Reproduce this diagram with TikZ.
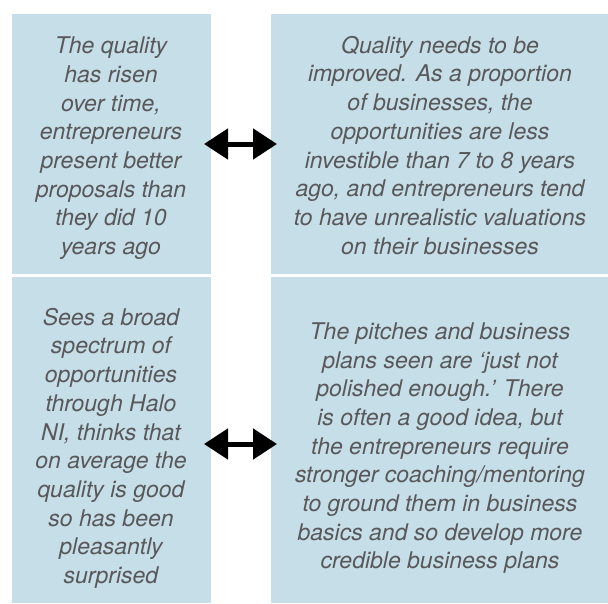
\documentclass[tikz,border=0pt]{standalone}
\usepackage{fontspec}
\setmainfont{TeX Gyre Heros}
\usetikzlibrary{arrows.meta}
\definecolor{boxblue}{HTML}{C6DEE7}
\definecolor{txtgray}{HTML}{58585A}
\begin{document}
\begin{tikzpicture}[x=1pt,y=-1pt,
  box/.style={fill=boxblue,draw=none,inner sep=0pt,outer sep=0pt},
  txt/.style={text=txtgray,align=center,inner sep=0pt,
    font={\fontsize{23}{28.7}\selectfont\itshape}},
  dbl/.style={line width=5pt,black,{Triangle[length=24pt,width=30pt]}-{Triangle[length=24pt,width=30pt]}}]
\useasboundingbox (0,0) rectangle (608,603);
\node[box,minimum width=198.7pt,minimum height=260pt] (tl) at (111.35,144) {};
\node[box,minimum width=337pt,minimum height=260pt] (tr) at (439.5,144) {};
\node[box,minimum width=198.7pt,minimum height=326pt] (bl) at (111.35,440) {};
\node[box,minimum width=337pt,minimum height=326pt] (br) at (439.5,440) {};
\node[txt] (ttl) at (111,148.2) {The quality\\has risen\\over time,\\entrepreneurs\\present better\\proposals than\\they did 10\\years ago};
\node[txt] (ttr) at (440,145.3) {Quality needs to be\\improved. As a proportion\\of businesses, the\\opportunities are less\\investible than 7 to 8 years\\ago, and entrepreneurs tend\\to have unrealistic valuations\\on their businesses};
\node[txt] (tbl) at (111,448.2) {Sees a broad\\spectrum of\\opportunities\\through Halo\\NI, thinks that\\on average the\\quality is good\\so has been\\pleasantly\\surprised};
\node[txt] (tbr) at (440,448.2) {The pitches and business\\plans seen are \textquoteleft just not\\polished enough.\textquoteright{} There\\is often a good idea, but\\the entrepreneurs require\\stronger coaching/mentoring\\to ground them in business\\basics and so develop more\\credible business plans};
\draw[dbl,shorten <=-6.7pt,shorten >=-6pt] (tl.east) -- (tr.west);
\draw[dbl,shorten <=-6.7pt,shorten >=-6pt] ([yshift=-4pt]bl.east) -- ([yshift=-4pt]br.west);
\end{tikzpicture}
\end{document}
